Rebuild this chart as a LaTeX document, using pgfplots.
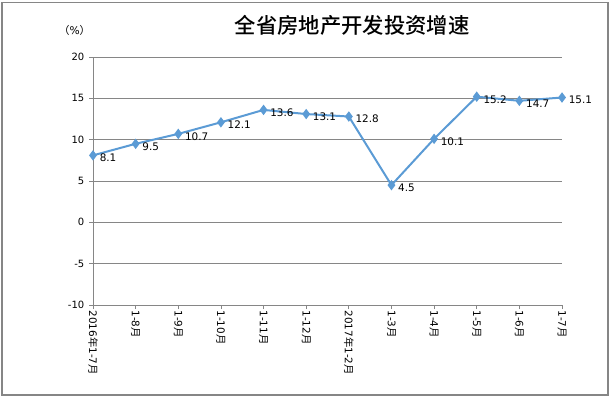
\documentclass[border=0pt]{standalone}
\usepackage{fontspec}
\setmainfont{DejaVu Sans}
\newfontfamily\cjk{Noto Sans CJK SC}
\newfontfamily\cjkb{Noto Sans CJK SC Medium}
\usepackage{pgfplots}
\pgfplotsset{compat=1.18}
\definecolor{linec}{RGB}{91,155,213}
\definecolor{gridc}{RGB}{134,134,134}
\begin{document}
\begin{tikzpicture}
\useasboundingbox (0pt,0pt) rectangle (457.5pt,297.75pt);
\draw[gridc, line width=0.8pt] (1.5pt,1.5pt) rectangle (456pt,296pt);
\node[font=\cjkb\fontsize{16}{19}\selectfont] at (264pt,279pt) {全省房地产开发投资增速};
\node[font=\fontsize{8}{9}\selectfont] at (56pt,275pt) {{\cjk（}\%{\cjk）}};
\begin{axis}[
  at={(69.75pt,69pt)}, anchor=south west,
  scale only axis, width=351.75pt, height=186pt,
  xmin=0, xmax=11, ymin=-10, ymax=20,
  ytick={-10,-5,0,5,10,15,20},
  xtick={0,...,11},
  xticklabels={2016{\cjk 年}1-7{\cjk 月},1-8{\cjk 月},1-9{\cjk 月},1-10{\cjk 月},1-11{\cjk 月},1-12{\cjk 月},2017{\cjk 年}1-2{\cjk 月},1-3{\cjk 月},1-4{\cjk 月},1-5{\cjk 月},1-6{\cjk 月},1-7{\cjk 月}},
  x tick label style={rotate=-90, anchor=west, font=\fontsize{7.8}{8}\selectfont, inner sep=1pt},
  y tick label style={font=\fontsize{7.5}{8}\selectfont},
  /pgf/number format/assume math mode=true,
  axis x line*=bottom, axis y line*=left,
  axis line style={gridc, line width=0.6pt},
  tick style={gridc, line width=0.6pt},
  tick align=outside, major tick length=3pt,
  ymajorgrids, grid style={gridc, line width=0.6pt},
  clip=false,
  nodes near coords,
  every node near coord/.append style={font=\fontsize{7.8}{8}\selectfont, anchor=west, xshift=1pt, yshift=-2pt, text=black},
]
\addplot[color=linec, line width=1.5pt, mark=diamond*, mark size=2.7pt, mark options={fill=linec, draw=linec}]
coordinates {(0,8.1)(1,9.5)(2,10.7)(3,12.1)(4,13.6)(5,13.1)(6,12.8)(7,4.5)(8,10.1)(9,15.2)(10,14.7)(11,15.1)};
\end{axis}
\end{tikzpicture}
\end{document}
